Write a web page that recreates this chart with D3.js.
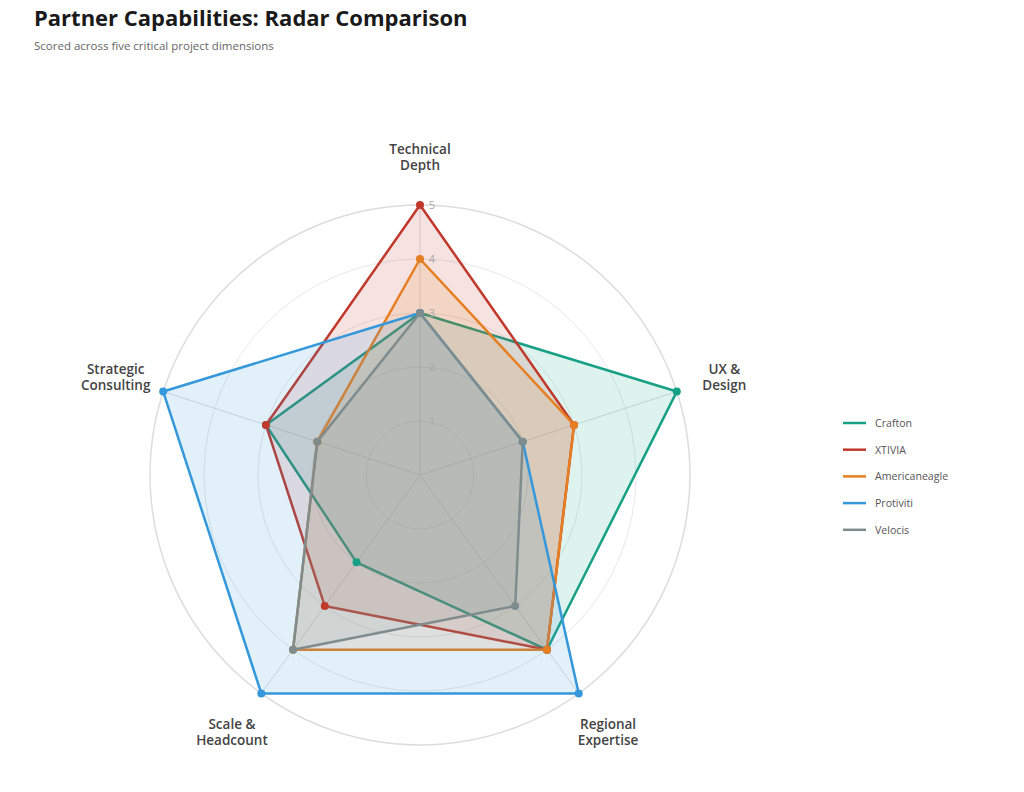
<!DOCTYPE html>
<html><head><meta charset="utf-8">
<script src="https://cdn.jsdelivr.net/npm/d3@7"></script>
<style>
body{margin:0;background:#fff;font-family:"Open Sans",sans-serif;}
</style></head>
<body><svg id="c" width="1024" height="792"></svg>
<script>
const axes = ["Technical\nDepth","UX &\nDesign","Regional\nExpertise","Scale &\nHeadcount","Strategic\nConsulting"];
const seriesNames = ["Crafton","XTIVIA","Americaneagle","Protiviti","Velocis"];
const crafton = [3,5,4,2,3];
const xtivia = [5,3,4,3,3];
const americaneagle = [4,3,4,4,2];
const protiviti = [3,2,5,5,5];
const velocis = [3,2,3,4,2];
const ticks = [1,2,3,4,5];
const colors = ["#16a085","#c0392b","#e67e22","#3498db","#7f8c8d"];
const values = [crafton,xtivia,americaneagle,protiviti,velocis];

const svg = d3.select("#c");
svg.append("text").attr("x",34).attr("y",26).attr("font-size",22).attr("font-weight",700).attr("fill","#1a1a1a").text("Partner Capabilities: Radar Comparison");
svg.append("text").attr("x",34).attr("y",50).attr("font-size",11.5).attr("fill","#666").text("Scored across five critical project dimensions");

const cx=420, cy=475;
const r = d3.scaleLinear().domain([0,5]).range([0,270]);
const ang = d3.scaleLinear().domain([0,axes.length]).range([-Math.PI/2, 1.5*Math.PI]);
const g = svg.append("g").attr("transform",`translate(${cx},${cy})`);

ticks.forEach(t=>{
  g.append("circle").attr("r",r(t)).attr("fill","none").attr("stroke", t===5?"#dddddd":"#e8e8e8").attr("stroke-width",t===5?1.5:1);
});
axes.forEach((a,i)=>{
  const th=ang(i);
  g.append("line").attr("x1",0).attr("y1",0).attr("x2",r(5)*Math.cos(th)).attr("y2",r(5)*Math.sin(th)).attr("stroke","#dcdcdc").attr("stroke-width",1);
});

const line = d3.lineRadial().angle((d,i)=>ang(i)+Math.PI/2).radius(d=>r(d)).curve(d3.curveLinearClosed);
values.forEach((v,k)=>{
  g.append("path").attr("d",line(v)).attr("fill",colors[k]).attr("fill-opacity",0.14).attr("stroke",colors[k]).attr("stroke-width",2.5).attr("stroke-linejoin","round");
});
values.forEach((v,k)=>{
  v.forEach((d,i)=>{
    const th=ang(i);
    g.append("circle").attr("cx",r(d)*Math.cos(th)).attr("cy",r(d)*Math.sin(th)).attr("r",4).attr("fill",colors[k]);
  });
});

ticks.forEach(t=>{
  g.append("text").attr("x",12).attr("y",-r(t)+4).attr("text-anchor","middle").attr("font-size",11).attr("fill","#a8a8a8").text(t);
});

axes.forEach((a,i)=>{
  const th=ang(i);
  const lx=320*Math.cos(th), ly=318*Math.sin(th);
  const lines=a.split("\n");
  const t=g.append("text").attr("text-anchor","middle").attr("font-size",13.5).attr("font-weight",600).attr("fill","#444");
  lines.forEach((s,j)=>{
    t.append("tspan").attr("x",lx).attr("y",ly-8+j*16+5).text(s);
  });
});

const lg = svg.append("g").attr("transform","translate(843,423)");
seriesNames.forEach((n,k)=>{
  const y=k*26.7;
  lg.append("line").attr("x1",0).attr("x2",23).attr("y1",y).attr("y2",y).attr("stroke",colors[k]).attr("stroke-width",2.5);
  lg.append("text").attr("x",32).attr("y",y+4).attr("font-size",10.6).attr("fill","#555").text(n);
});
</script></body></html>
